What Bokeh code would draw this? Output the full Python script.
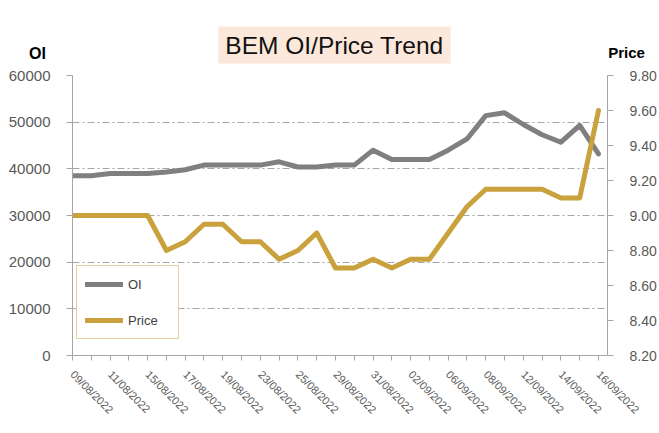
import math
from bokeh.plotting import figure
from bokeh.models import (LinearAxis, Range1d, FixedTicker, Legend, LegendItem,
                          Label, NumeralTickFormatter, ColumnDataSource)
from bokeh.embed import file_html
from bokeh.resources import INLINE

# ---- data ----
dates = ["09/08/2022", "10/08/2022", "11/08/2022", "12/08/2022", "15/08/2022",
         "16/08/2022", "17/08/2022", "18/08/2022", "19/08/2022", "22/08/2022",
         "23/08/2022", "24/08/2022", "25/08/2022", "26/08/2022", "29/08/2022",
         "30/08/2022", "31/08/2022", "01/09/2022", "02/09/2022", "05/09/2022",
         "06/09/2022", "07/09/2022", "08/09/2022", "09/09/2022", "12/09/2022",
         "13/09/2022", "14/09/2022", "15/09/2022", "16/09/2022"]
oi = [38500, 38500, 39000, 39000, 39000, 39300, 39800, 40800, 40800, 40800,
      40800, 41500, 40400, 40400, 40800, 40800, 44000, 42000, 42000, 42000,
      44000, 46400, 51400, 52000, 49500, 47300, 45700, 49300, 43200]
price = [9.00, 9.00, 9.00, 9.00, 9.00, 8.80, 8.85, 8.95, 8.95, 8.85,
         8.85, 8.75, 8.80, 8.90, 8.70, 8.70, 8.75, 8.70, 8.75, 8.75,
         8.90, 9.05, 9.15, 9.15, 9.15, 9.15, 9.10, 9.10, 9.60]
oi_ticks = [0, 10000, 20000, 30000, 40000, 50000, 60000]
price_ticks = [8.2, 8.4, 8.6, 8.8, 9.0, 9.2, 9.4, 9.6, 9.8]
title_text = "BEM OI/Price Trend"

GREY = "#7F7F7F"
GOLD = "#C9A13D"
AXIS = "#A6A6A6"
TXT = "#595959"
FONT = "Liberation Sans"

idx = list(range(len(dates)))
src = ColumnDataSource(dict(x=idx, oi=oi, price=price))

p = figure(width=659, height=433, output_backend="svg", toolbar_location=None,
           x_range=Range1d(0, len(dates) - 1 + 0.48), y_range=Range1d(0, 60000),
           min_border_left=72, min_border_right=50, min_border_top=75,
           min_border_bottom=78)
p.outline_line_color = None
p.background_fill_color = "white"
p.border_fill_color = "white"
p.extra_y_ranges = {"price": Range1d(8.2, 9.8)}

# grid
p.xgrid.visible = False
p.ygrid.grid_line_color = AXIS
p.ygrid.grid_line_dash = "7 3 2 3"
p.ygrid.grid_line_width = 1

# x axis
xa = p.xaxis[0]
xa.ticker = FixedTicker(ticks=idx[::2], minor_ticks=idx[1::2])
xa.major_label_overrides = {i: dates[i] for i in idx[::2]}
xa.major_label_orientation = -math.pi / 4
xa.axis_line_color = AXIS
xa.major_tick_line_color = AXIS
xa.minor_tick_line_color = AXIS
xa.major_tick_in = 0
xa.major_tick_out = 5
xa.minor_tick_in = 0
xa.minor_tick_out = 5
xa.major_label_text_font = FONT
xa.major_label_text_font_size = "11px"
xa.major_label_text_color = TXT
xa.major_label_standoff = 12

# left axis
ya = p.yaxis[0]
ya.ticker = FixedTicker(ticks=oi_ticks)
ya.formatter = NumeralTickFormatter(format="0")
ya.axis_line_color = AXIS
ya.major_tick_line_color = AXIS
ya.major_tick_in = 0
ya.major_tick_out = 6
ya.minor_tick_line_color = None
ya.major_label_text_font = FONT
ya.major_label_text_font_size = "15px"
ya.major_label_text_color = TXT
ya.major_label_standoff = 16

# right axis
ra = LinearAxis(y_range_name="price", ticker=FixedTicker(ticks=price_ticks),
                formatter=NumeralTickFormatter(format="0.00"))
ra.axis_line_color = AXIS
ra.major_tick_line_color = AXIS
ra.major_tick_in = 0
ra.major_tick_out = 6
ra.minor_tick_line_color = None
ra.major_label_text_font = FONT
ra.major_label_text_font_size = "14px"
ra.major_label_text_color = TXT
ra.major_label_standoff = 16
p.add_layout(ra, "right")

# lines
r_oi = p.line("x", "oi", source=src, line_color=GREY, line_width=5,
              line_join="round", line_cap="round")
r_pr = p.line("x", "price", source=src, y_range_name="price", line_color=GOLD,
              line_width=5, line_join="round", line_cap="round")

legend = Legend(items=[LegendItem(label="OI", renderers=[r_oi]),
                       LegendItem(label="Price", renderers=[r_pr])],
                location=(4, 16), padding=8, spacing=16, glyph_height=20,
                glyph_width=38, label_height=20, label_width=42,
                label_standoff=5, border_line_color=GOLD, border_line_width=1.5,
                background_fill_color="white", background_fill_alpha=1,
                label_text_font=FONT, label_text_font_size="13px",
                label_text_color="#404040", margin=0)
p.add_layout(legend, "center")

# title box and axis titles (in the top panel so they are not clipped;
# each sits in its own stacked row, so the y offsets compensate)
p.add_layout(Label(x=262, y=30.5, x_units="screen", y_units="screen",
                   text=title_text, text_font=FONT, text_font_size="24.5px",
                   text_color="#111111", text_align="center",
                   text_baseline="middle", background_fill_color="#FCE8DA",
                   padding=dict(left=7, right=7, top=5, bottom=5)), "above")
p.add_layout(Label(x=-35, y=-15.2, x_units="screen", y_units="screen", text="OI",
                   text_font=FONT, text_font_size="16px", text_font_style="bold",
                   text_color="#000000", text_align="center",
                   text_baseline="middle"), "above")
p.add_layout(Label(x=554, y=-30.6, x_units="screen", y_units="screen", text="Price",
                   text_font=FONT, text_font_size="15px", text_font_style="bold",
                   text_color="#000000", text_align="center",
                   text_baseline="middle"), "above")

open("out.html", "w").write(file_html(p, INLINE))
